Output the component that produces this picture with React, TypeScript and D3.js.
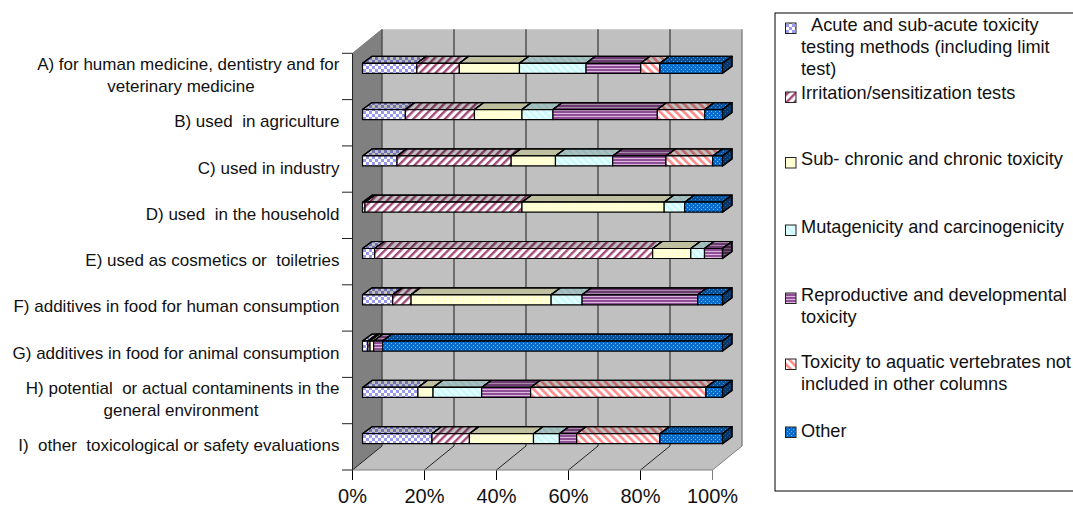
import React from "react";
import * as d3 from "d3";

// percentages, one entry per category
const categories = ["A", "B", "C", "D", "E", "F", "G", "H", "I"];
const acute = [15.1, 11.9, 9.6, 0.7, 3.4, 8.4, 1.5, 15.4, 19.3];
const irritation = [11.8, 19.2, 31.7, 43.6, 77.2, 5.1, 0.6, 0, 10.4];
const subChronic = [16.7, 13.2, 12.3, 39.5, 10.6, 38.9, 1.0, 4.2, 17.8];
const mutagenicity = [18.5, 8.6, 15.9, 5.7, 3.8, 8.6, 0, 13.5, 7.2];
const reproductive = [15.2, 29.0, 14.8, 0, 5.0, 32.1, 2.5, 13.6, 4.8];
const aquatic = [5.3, 13.2, 13.0, 0, 0, 0, 0, 48.7, 23.1];
const other = [17.4, 4.9, 2.7, 10.5, 0, 6.9, 94.4, 4.6, 17.4];

const seriesKeys = ["acute", "irritation", "subChronic", "mutagenicity", "reproductive", "aquatic", "other"];
const seriesValues = [acute, irritation, subChronic, mutagenicity, reproductive, aquatic, other];
const xTicks = [0, 0.2, 0.4, 0.6, 0.8, 1];

const categoryLabels = [
  ["A) for human medicine, dentistry and for", "veterinary medicine"],
  ["B) used  in agriculture"],
  ["C) used in industry"],
  ["D) used  in the household"],
  ["E) used as cosmetics or  toiletries"],
  ["F) additives in food for human consumption"],
  ["G) additives in food for animal consumption"],
  ["H) potential  or actual contaminents in the", "general environment"],
  ["I)  other  toxicological or safety evaluations"],
];

const legendLines = [
  ["\u00a0\u00a0Acute and sub-acute toxicity", "testing methods (including limit", "test)"],
  ["Irritation/sensitization tests"],
  ["Sub- chronic and chronic toxicity"],
  ["Mutagenicity and carcinogenicity"],
  ["Reproductive and developmental", "toxicity"],
  ["Toxicity to aquatic vertebrates not", "included in other columns"],
  ["Other"],
];
const legendTextY = [31, 99, 165, 233, 301, 368, 437];
const legendMarkY = [23, 92, 157.5, 225, 293, 359, 427];

const FONT = "'Liberation Sans', Arial, sans-serif";

const rows = categories.map((c, i) => {
  const row: any = { category: c };
  seriesKeys.forEach((k, j) => (row[k] = seriesValues[j][i]));
  return row;
});
const stacked = d3.stack<any>().keys(seriesKeys).offset(d3.stackOffsetExpand)(rows);

const x = d3.scaleLinear().domain([0, 1]).range([352.5, 712.5]);
const y = d3.scaleBand<string>().domain(categories).range([53.3, 470]);

// offsets of the fake 3D box
const wallDx = 29.5;
const wallDy = -24;
const barInset = 10;
const barH = 10;
const barDx = 9.5;
const barDy = -7;

const poly = (pts: number[][]) => pts.map((p) => p.join(",")).join(" ");

const Patterns = () => (
  <defs>
    <pattern id="acute" width="6" height="6" patternUnits="userSpaceOnUse">
      <rect width="6" height="6" fill="#fff" />
      <rect width="3" height="3" fill="#9999ee" />
      <rect x="3" y="3" width="3" height="3" fill="#9999ee" />
    </pattern>
    <pattern id="irritation" width="5.6" height="5.6" patternUnits="userSpaceOnUse" patternTransform="rotate(45)">
      <rect width="5.6" height="5.6" fill="#fff" />
      <rect width="2.4" height="5.6" fill="#a34a78" />
    </pattern>
    <pattern id="subChronic" width="3" height="3" patternUnits="userSpaceOnUse">
      <rect width="3" height="3" fill="#ffffd8" />
      <rect width="1" height="1" fill="#ffffb8" />
    </pattern>
    <pattern id="mutagenicity" width="5" height="5" patternUnits="userSpaceOnUse" patternTransform="rotate(-45)">
      <rect width="5" height="5" fill="#e4ffff" />
      <rect width="2" height="5" fill="#c4f8fa" />
    </pattern>
    <pattern id="reproductive" width="3" height="3" patternUnits="userSpaceOnUse">
      <rect width="3" height="3" fill="#dcb8dc" />
      <rect width="3" height="2" fill="#8f4f97" />
    </pattern>
    <pattern id="aquatic" width="5.6" height="5.6" patternUnits="userSpaceOnUse" patternTransform="rotate(-45)">
      <rect width="5.6" height="5.6" fill="#fff" />
      <rect width="2.6" height="5.6" fill="#ff8a8a" />
    </pattern>
    <pattern id="other" width="4" height="4" patternUnits="userSpaceOnUse">
      <rect width="4" height="4" fill="#0a6ccf" />
      <rect x="1" y="1" width="1" height="1" fill="#7db8ee" />
      <rect x="3" y="3" width="1" height="1" fill="#7db8ee" />
    </pattern>
  </defs>
);

const BarRow = ({ index }: { index: number }) => {
  const top = y(categories[index])! + barInset;
  const segs = stacked
    .map((s) => ({ key: s.key, x0: x(s[index][0]) + barInset, x1: x(s[index][1]) + barInset }))
    .filter((d) => d.x1 - d.x0 > 0.01);
  const last = segs[segs.length - 1];
  const sidePts = poly([
    [last.x1, top],
    [last.x1 + barDx, top + barDy],
    [last.x1 + barDx, top + barDy + barH],
    [last.x1, top + barH],
  ]);
  return (
    <g stroke="#000" strokeWidth={1.2} strokeLinejoin="round">
      {segs.map((d) => {
        const pts = poly([
          [d.x0, top],
          [d.x0 + barDx, top + barDy],
          [d.x1 + barDx, top + barDy],
          [d.x1, top],
        ]);
        return (
          <g key={d.key}>
            <polygon points={pts} fill={`url(#${d.key})`} />
            <polygon points={pts} fill="#000" fillOpacity={0.25} />
            <rect x={d.x0} y={top} width={d.x1 - d.x0} height={barH} fill={`url(#${d.key})`} />
          </g>
        );
      })}
      <polygon points={sidePts} fill={`url(#${last.key})`} />
      <polygon points={sidePts} fill="#000" fillOpacity={0.5} />
    </g>
  );
};

export default function App() {
  const yTop = 53.3;
  const yBottom = 470;
  const x0 = x(0);
  const x1 = x(1);
  const tickYs = categories.map((c) => y(c)!).concat(yBottom);

  return (
    <svg
      width={1073}
      height={507}
      viewBox="0 0 1073 507"
      style={{ position: "absolute", left: 0, top: 0, fontFamily: FONT }}
    >
      <Patterns />

      {/* walls and floor */}
      <polygon
        points={poly([
          [x0 + wallDx, yTop + wallDy],
          [x1 + wallDx, yTop + wallDy],
          [x1 + wallDx, yBottom + wallDy],
          [x0 + wallDx, yBottom + wallDy],
        ])}
        fill="#c0c0c0"
      />
      <polygon
        points={poly([
          [x0, yBottom],
          [x1, yBottom],
          [x1 + wallDx, yBottom + wallDy],
          [x0 + wallDx, yBottom + wallDy],
        ])}
        fill="#c0c0c0"
      />
      <polygon
        points={poly([
          [x0, yTop],
          [x0 + wallDx, yTop + wallDy],
          [x0 + wallDx, yBottom + wallDy],
          [x0, yBottom],
        ])}
        fill="#808080"
      />

      {/* gridlines on the back wall, then across the floor */}
      {xTicks.map((t) => (
        <g key={t}>
          <line
            x1={x(t) + wallDx}
            x2={x(t) + wallDx}
            y1={yTop + wallDy}
            y2={yBottom + wallDy}
            stroke={t === 1 ? "#808080" : "#4a4a4a"}
            strokeWidth={1.4}
          />
          <line
            x1={x(t) + wallDx}
            x2={x(t)}
            y1={yBottom + wallDy}
            y2={yBottom}
            stroke={t === 1 ? "#808080" : "#222"}
            strokeWidth={1}
          />
          <line x1={x(t)} x2={x(t)} y1={yBottom} y2={yBottom + 10} stroke={t === 1 ? "#808080" : "#000"} strokeWidth={1} />
          <text x={x(t)} y={502.5} textAnchor="middle" fontSize={20} fill="#111">
            {d3.format(".0%")(t)}
          </text>
        </g>
      ))}
      <line x1={x0} x2={x1} y1={yBottom} y2={yBottom} stroke="#808080" strokeWidth={1.2} />
      <line x1={x0} x2={x0} y1={yTop} y2={yBottom} stroke="#222" strokeWidth={1} />
      <line x1={x0} x2={x0 + wallDx} y1={yTop} y2={yTop + wallDy} stroke="#808080" strokeWidth={1} />

      {tickYs.map((ty) => (
        <line key={ty} x1={342} x2={x0} y1={ty} y2={ty} stroke="#222" strokeWidth={1} />
      ))}

      {categories.map((c, i) => (
        <BarRow key={c} index={i} />
      ))}

      {/* category labels */}
      {categories.map((c, i) => {
        const lines = categoryLabels[i];
        const mid = y(c)! + y.bandwidth() / 2 - 1.5;
        return lines.map((l, j) => (
          <text
            key={l}
            x={j === 0 ? 339.5 : 181}
            y={mid + 6 + (j - (lines.length - 1) / 2) * 22}
            textAnchor={j === 0 ? "end" : "middle"}
            fontSize={17}
            fill="#111"
            xmlSpace="preserve"
          >
            {l}
          </text>
        ));
      })}

      {/* legend */}
      <rect x={775} y={13} width={310} height={478} fill="#fff" stroke="#000" strokeWidth={1} />
      {seriesKeys.map((k, i) => (
        <g key={k}>
          <rect x={785.5} y={legendMarkY[i]} width={10.5} height={10.5} fill={`url(#${k})`} stroke="#222" strokeWidth={1} />
          {legendLines[i].map((l, j) => (
            <text key={l} x={801} y={legendTextY[i] + j * 22} fontSize={18.2} fill="#111" xmlSpace="preserve">
              {l}
            </text>
          ))}
        </g>
      ))}
    </svg>
  );
}
